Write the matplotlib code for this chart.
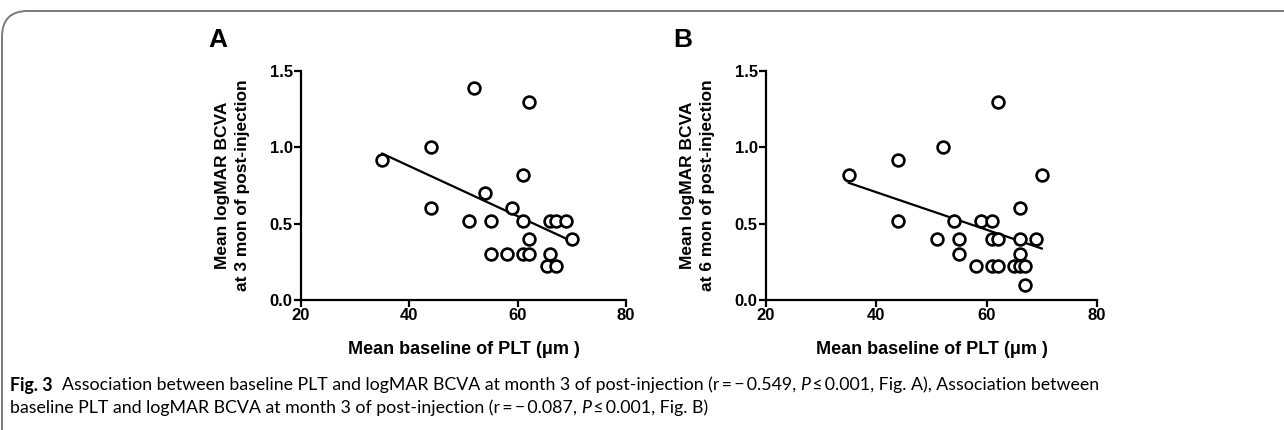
import numpy as np
import matplotlib
matplotlib.use("Agg")
import matplotlib.pyplot as plt
from matplotlib.patches import FancyBboxPatch

# panel A: baseline PLT vs logMAR BCVA at 3 months
plt_a = [35, 44, 44, 52, 62, 61, 54, 59, 51, 55, 61, 66, 67, 69, 62, 70,
         55, 58, 61, 62, 66, 65.5, 67]
bcva_a = [0.92, 1.0, 0.60, 1.39, 1.30, 0.82, 0.70, 0.60, 0.52, 0.52, 0.52, 0.52,
          0.52, 0.52, 0.40, 0.40, 0.30, 0.30, 0.30, 0.30, 0.30, 0.22, 0.22]
fit_a = [-0.0164, 1.533]   # slope, intercept

# panel B: baseline PLT vs logMAR BCVA at 6 months
plt_b = [35, 44, 44, 52, 62, 70, 66, 54, 59, 61, 51, 55, 61, 62, 66, 69,
         55, 66, 58, 61, 62, 65, 66, 67, 67]
bcva_b = [0.82, 0.92, 0.52, 1.0, 1.30, 0.82, 0.60, 0.52, 0.52, 0.52, 0.40, 0.40,
          0.40, 0.40, 0.40, 0.40, 0.30, 0.30, 0.22, 0.22, 0.22, 0.22, 0.22, 0.22, 0.10]
fit_b = [-0.0123, 1.198]

x_ticks = [20, 40, 60, 80]
y_ticks = [0.0, 0.5, 1.0, 1.5]
panels = ["A", "B"]
ylabels = ["Mean logMAR BCVA\nat 3 mon of post-injection",
           "Mean logMAR BCVA\nat 6 mon of post-injection"]
xlabel = "Mean baseline of PLT (\u03bcm )"

W, H = 1284, 430
fig = plt.figure(figsize=(W / 100, H / 100), dpi=100)
chart_font = ["Liberation Sans", "DejaVu Sans"]
cap_font = ["Lato", "DejaVu Sans"]

# frame round the figure (top and left edges, rounded corner)
frame = FancyBboxPatch((2 / W, -0.2), 1.2, 1.2 - 11 / H,
                       boxstyle="round,pad=0,rounding_size=0.02",
                       transform=fig.transFigure, fill=False,
                       edgecolor="#7a7a7a", linewidth=1.4, mutation_aspect=W / H)
fig.patches.append(frame)

boxes = [(301, 626), (766, 1097)]
datasets = [(plt_a, bcva_a, fit_a), (plt_b, bcva_b, fit_b)]

for i, ((x0, x1), (xs, ys, fit)) in enumerate(zip(boxes, datasets)):
    ax = fig.add_axes([x0 / W, 1 - 300 / H, (x1 - x0) / W, (300 - 71) / H])
    ax.plot(xs, ys, "o", mfc="white", mec="black", ms=8.5, mew=1.9, zorder=3,
            clip_on=False)
    lx = np.array([min(xs), max(xs)])
    ax.plot(lx, fit[0] * lx + fit[1], color="black", lw=1.6, zorder=2)
    ax.set_xlim(20, 80)
    ax.set_ylim(0, 1.5)
    ax.set_xticks(x_ticks)
    ax.set_yticks(y_ticks)
    ax.set_yticklabels([f"{v:.1f}" for v in y_ticks])
    for s in ["top", "right"]:
        ax.spines[s].set_visible(False)
    for s in ["left", "bottom"]:
        ax.spines[s].set_linewidth(1.6)
    ax.tick_params(direction="out", length=5, width=1.6, labelsize=12, pad=1)
    for lab in ax.get_xticklabels() + ax.get_yticklabels():
        lab.set_fontweight("bold")
        lab.set_family(chart_font)
    ax.set_xlabel(xlabel, fontsize=13, fontweight="bold", family=chart_font,
                  labelpad=13)
    ax.set_ylabel(ylabels[i], fontsize=12.5, fontweight="bold", family=chart_font,
                  labelpad=14, linespacing=1.4)
    fig.text((x0 - 93) / W, 1 - 40 / H, panels[i], fontsize=19, fontweight="bold",
             family=chart_font, ha="left", va="center")

# caption, drawn as runs of text placed one after another
fig.canvas.draw()
renderer = fig.canvas.get_renderer()


def write_runs(runs, x, y, size, measure=False):
    start = x
    made = []
    for txt, weight, style in runs:
        t = fig.text(x / W, 1 - y / H, txt, fontsize=size, fontweight=weight,
                     style=style, family=cap_font, va="center", ha="left")
        made.append(t)
        x += t.get_window_extent(renderer).width
    if measure:
        for t in made:
            t.remove()
    return x - start


line1 = [("Fig. 3", "bold", "normal"),
         ("  Association between baseline PLT and logMAR BCVA at month 3 of post-injection (r\u2009=\u2009\u2212\u20090.549, ",
          "normal", "normal"),
         ("P", "normal", "italic"),
         ("\u2009\u2264\u20090.001, Fig. A), Association between", "normal", "normal")]
line2 = [("baseline PLT and logMAR BCVA at month 3 of post-injection (r\u2009=\u2009\u2212\u20090.087, ",
          "normal", "normal"),
         ("P", "normal", "italic"),
         ("\u2009\u2264\u20090.001, Fig. B)", "normal", "normal")]

# size the caption so line 1 spans the same width as in the source
cap_left, cap_right = 10, 1100
w = write_runs(line1, cap_left, 385, 11, measure=True)
size = 11 * (cap_right - cap_left) / w
write_runs(line1, cap_left, 385, size)
write_runs(line2, cap_left, 408, size)

fig.savefig("out.png", dpi=100)
